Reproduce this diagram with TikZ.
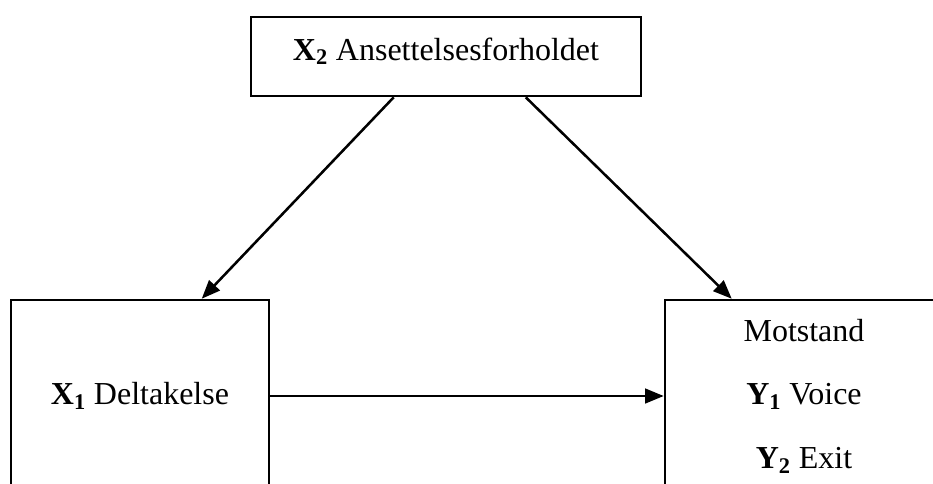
\documentclass[tikz,border=0pt]{standalone}
\usepackage{fontspec}
\setmainfont{Liberation Serif}
\usetikzlibrary{arrows.meta,calc}
\tikzset{
	boks/.style={draw, line width=1.9pt, inner sep=0pt, font=\fontsize{24}{47.6}\selectfont},
	pil/.style={line width=1.9pt, -{Triangle[length=14pt,width=11pt]}}
}

\begin{document}
\begin{tikzpicture}[x=0.75pt, y=-0.75pt]
			%%%%% START %%%%%
			
			\useasboundingbox (0, 0) rectangle (933, 483);
			\clip (0, 0) rectangle (933, 483);
			
			\node[boks, minimum width=292.5pt, minimum height=59.25pt, text height=17pt, text depth=11.75pt] (ansatt) at (446, 56.5) {\textbf{X\textsubscript{2}} Ansettelsesforholdet};
			
			\node[boks, minimum width=193.5pt, minimum height=144pt] (deltak) at (140, 396) {\textbf{X\textsubscript{1}} Deltakelse};
			
			\node[boks, minimum width=208.5pt, minimum height=144pt, align=center] (motstand) at (804, 396) {Motstand\\\textbf{Y\textsubscript{1}} Voice\\\textbf{Y\textsubscript{2}} Exit};
			
			\draw[pil] ($(ansatt.south west)+(144, 0)$) -- ($(deltak.north west)+(192, 0)$);
			\draw[pil] ($(ansatt.south west)+(276, 0)$) -- ($(motstand.north west)+(68, 0)$);
			\draw[pil] (deltak.east) -- (motstand.west);
			
			%%%%% END %%%%%
		\end{tikzpicture}
\end{document}
